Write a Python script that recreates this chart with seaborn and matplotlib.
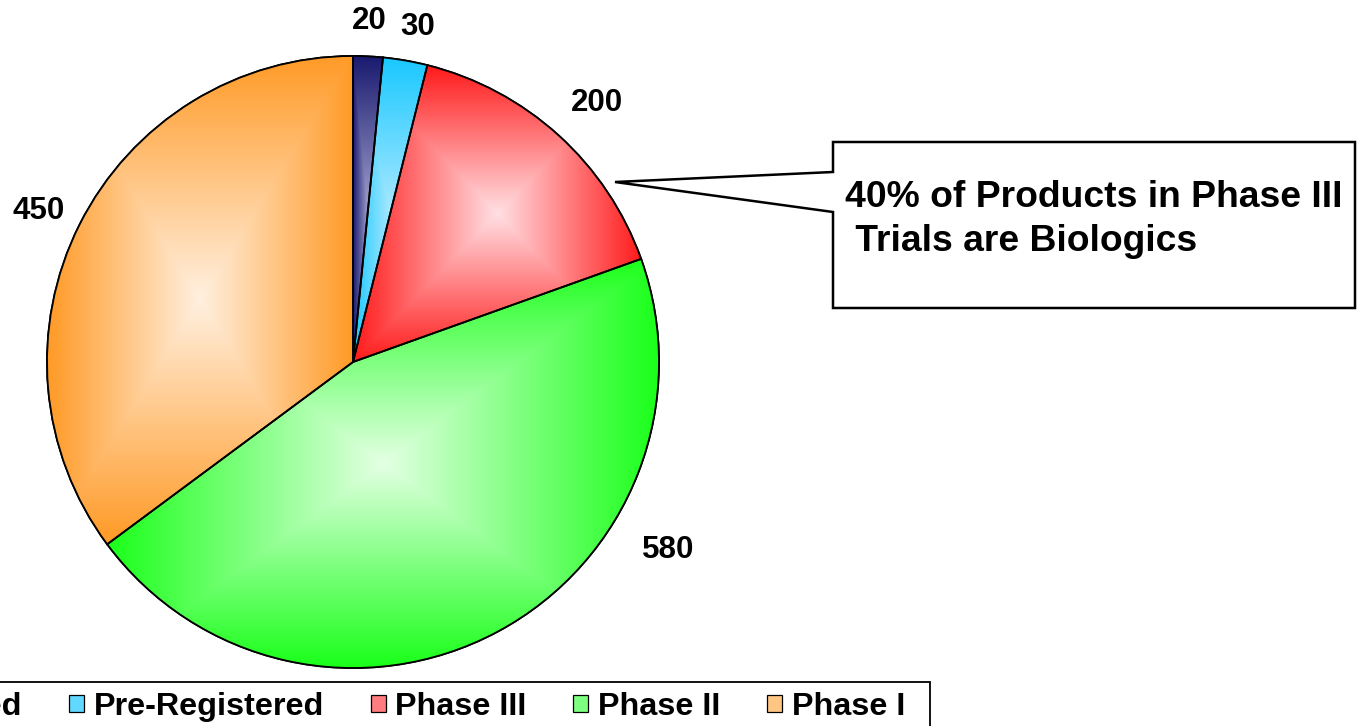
import numpy as np
import seaborn as sns
import matplotlib.pyplot as plt
import matplotlib.patches as mpatches
from matplotlib.colors import to_rgb

# data
stages = ["Registered", "Pre-Registered", "Phase III", "Phase II", "Phase I"]
counts = [20, 30, 200, 580, 450]
callout_text = "40% of Products in Phase III\n Trials are Biologics"

# styling
edge_colors = ["#1a1a70", "#19c8ff", "#ff1a1a", "#1aff1a", "#ff9a26"]
light_colors = ["#a0a0cc", "#a8e8ff", "#ffe0e4", "#e4ffe4", "#fff0e0"]
label_dist = [1.115, 1.115, 1.163, 1.2, 1.14]
label_shift = [0, -1, -1, 31, 1]  # degrees, label nudged off the slice middle

sns.set_style("white")
plt.rcParams["font.family"] = ["Liberation Sans", "DejaVu Sans"]
plt.rcParams["font.weight"] = "bold"
plt.rcParams["text.color"] = "black"

W, H = 1358, 726
fig = plt.figure(figsize=(W / 100, H / 100), dpi=100)
ax = fig.add_axes([0, 0, 1, 1])

cx, cy, R = 353, H - 362, 306
wedges, _ = ax.pie(counts, colors=edge_colors, startangle=90, counterclock=False,
                   center=(cx, cy), radius=R, frame=True,
                   wedgeprops=dict(edgecolor="black", linewidth=1.3))

# rectangular "from centre" gradient fill for each slice
for w, c0, c1 in zip(wedges, light_colors, edge_colors):
    ext = w.get_path().get_extents()
    x0, y0, x1, y1 = ext.x0, ext.y0, ext.x1, ext.y1
    gx, gy = np.meshgrid(np.linspace(x0, x1, 300), np.linspace(y0, y1, 300))
    t = np.maximum(np.abs(gx - (x0 + x1) / 2) / ((x1 - x0) / 2),
                   np.abs(gy - (y0 + y1) / 2) / ((y1 - y0) / 2))
    t = np.clip(t, 0, 1)
    img = (1 - t)[..., None] * np.array(to_rgb(c0)) + t[..., None] * np.array(to_rgb(c1))
    im = ax.imshow(img, extent=(x0, x1, y0, y1), origin="lower",
                   interpolation="bilinear", zorder=1.5)
    im.set_clip_path(w)
    ax.add_patch(mpatches.PathPatch(w.get_path(), fill=False, edgecolor="black",
                                    linewidth=1.3, zorder=2))

# value labels
for w, n, d, s in zip(wedges, counts, label_dist, label_shift):
    ang = np.deg2rad((w.theta1 + w.theta2) / 2 + s)
    ax.text(cx + d * R * np.cos(ang), cy + d * R * np.sin(ang), str(n),
            ha="center", va="center", fontsize=22.5, fontweight="bold")

# legend (runs off the left and bottom edge like the original)
ax.add_patch(mpatches.Rectangle((-10, H - 780), 940, 780 - 681.5, facecolor="white",
                                edgecolor="black", linewidth=1.3, zorder=3))
mid_colors = [tuple(0.5 * np.array(to_rgb(a)) + 0.5 * np.array(to_rgb(b)))
              for a, b in zip(light_colors, edge_colors)]
handles = [mpatches.Patch(facecolor=c, edgecolor="black", linewidth=0.9) for c in mid_colors]
leg = ax.legend(handles, stages, loc="center right", bbox_to_anchor=(905, H - 707),
                bbox_transform=ax.transData, ncol=5, frameon=False, borderaxespad=0,
                borderpad=0, prop={"size": 23.3, "weight": "bold"}, handlelength=0.47,
                handleheight=0.45, handletextpad=0.3, columnspacing=1.43)
leg.set_zorder(4)

# callout box
box = [(833, 142), (1355, 142), (1355, 308), (833, 308), (833, 212), (615, 182), (833, 172)]
ax.add_patch(mpatches.Polygon([(x, H - y) for x, y in box], closed=True, facecolor="white",
                              edgecolor="black", linewidth=1.8, zorder=3))
ax.text(845, H - 180, callout_text, ha="left", va="top", fontsize=26.8,
        fontweight="bold", linespacing=1.34, zorder=4)

ax.set_xlim(0, W)
ax.set_ylim(0, H)
ax.set_aspect("equal")
ax.axis("off")
fig.savefig("out.png", dpi=100)
